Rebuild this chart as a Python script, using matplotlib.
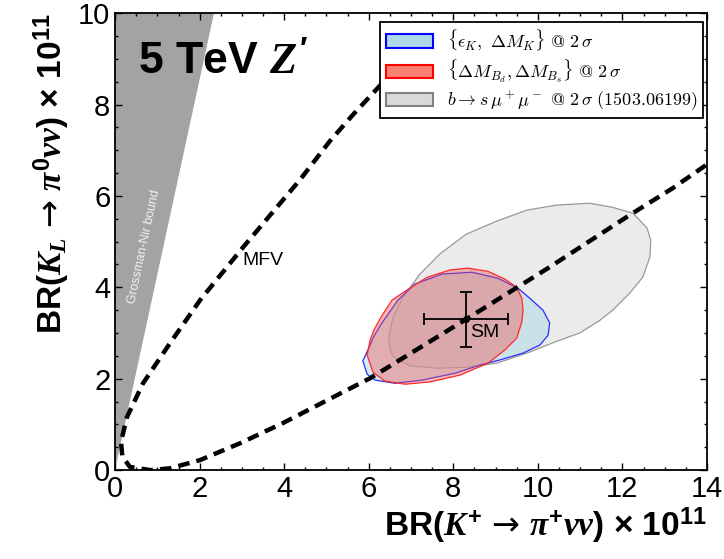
import numpy as np
import matplotlib
matplotlib.use("Agg")
import matplotlib.pyplot as plt
from matplotlib.font_manager import FontProperties

plt.rcParams['font.family'] = ['Liberation Sans', 'DejaVu Sans']
plt.rcParams['mathtext.fontset'] = 'custom'
plt.rcParams['mathtext.rm'] = 'Liberation Sans:bold'
plt.rcParams['mathtext.bf'] = 'Liberation Sans:bold'
plt.rcParams['mathtext.it'] = 'Liberation Serif:italic:bold'
plt.rcParams['mathtext.sf'] = 'DejaVu Sans'

# Grossman-Nir excluded wedge (BR_L > 4.3 BR_+)
gn_x = [0.0, 0.0, 2.33]
gn_y = [0.0, 10.0, 10.0]

# MFV curve, traced from the upper branch round to the lower one
mfv_x = [6.60, 6.20, 5.60, 5.08, 4.37, 3.03, 2.01, 1.30, 0.66, 0.28, 0.14, 0.17, 0.35, 0.83,
         1.30, 2.01, 2.96, 3.97, 5.48, 6.03, 8.30, 10.24, 12.17, 13.19, 14.0]
mfv_y = [8.75, 8.35, 7.75, 7.20, 6.35, 4.88, 3.72, 2.78, 1.90, 1.16, 0.62, 0.30, 0.07, 0.0,
         0.04, 0.22, 0.59, 1.03, 1.75, 2.01, 3.30, 4.42, 5.58, 6.17, 6.69]

# b -> s mu mu allowed region
bsmm_x = [6.48, 6.57, 6.81, 7.21, 7.68, 8.30, 9.03, 9.74, 10.45, 11.23, 11.77, 12.25, 12.58,
          12.67, 12.65, 12.48, 12.17, 11.77, 11.47, 10.99, 10.45, 9.74, 9.03, 8.32, 7.61,
          6.97, 6.57, 6.48]
bsmm_y = [2.95, 3.33, 3.79, 4.29, 4.73, 5.16, 5.45, 5.69, 5.80, 5.84, 5.75, 5.62, 5.30,
          5.03, 4.66, 4.22, 3.87, 3.50, 3.28, 3.00, 2.82, 2.56, 2.34, 2.25, 2.23,
          2.28, 2.49, 2.74]

# eps_K, Delta M_K allowed region
kk_x = [5.86, 5.98, 6.12, 6.31, 6.69, 7.09, 7.73, 8.44, 9.05, 9.53, 9.81, 10.12, 10.28,
        10.24, 10.05, 9.65, 9.10, 8.63, 8.04, 7.26, 6.62, 6.15, 5.96]
kk_y = [2.39, 2.63, 2.93, 3.22, 3.72, 4.07, 4.29, 4.33, 4.20, 3.98, 3.76, 3.50, 3.22,
        2.95, 2.74, 2.56, 2.41, 2.30, 2.12, 1.97, 1.90, 1.97, 2.10]

# Delta M_Bd, Delta M_Bs allowed region
bb_x = [5.96, 6.03, 6.12, 6.29, 6.55, 6.90, 7.38, 7.92, 8.35, 8.82, 9.22, 9.50, 9.62,
        9.65, 9.62, 9.50, 9.22, 8.82, 8.16, 7.45, 6.86, 6.38, 6.10]
bb_y = [2.52, 2.84, 3.06, 3.35, 3.72, 3.94, 4.22, 4.38, 4.42, 4.35, 4.18, 4.00, 3.76,
        3.50, 3.24, 2.89, 2.63, 2.34, 2.08, 1.93, 1.88, 1.95, 2.14]

# SM prediction
sm_x, sm_dx = 8.3, 1.0
sm_y, sm_dy = 3.3, 0.6

fig = plt.figure(figsize=(7.24, 5.59), dpi=100)
ax = fig.add_axes([0.159, 0.159, 0.8175, 0.8175])

ax.fill(gn_x, gn_y, color='#a3a3a3', lw=0, zorder=1)
ax.text(0.68, 4.9, 'Grossman-Nir bound', rotation=77.9, color='#f0f0f0',
        fontsize=9, ha='center', va='center', zorder=2)

ax.fill(bsmm_x, bsmm_y, facecolor='#ebebeb', edgecolor='#999999', lw=0.9, zorder=2)
ax.fill(kk_x, kk_y, facecolor=(0.68, 0.85, 0.90, 0.5), edgecolor='#2b2bff', lw=0.9, zorder=3)
ax.fill(bb_x, bb_y, facecolor=(0.95, 0.33, 0.30, 0.4), edgecolor='#ff2a2a', lw=0.9, zorder=4)

ax.plot(mfv_x, mfv_y, color='black', lw=3.2, dashes=(2.6, 1.6), zorder=5)
ax.text(3.0, 4.49, 'MFV', fontsize=14, va='baseline', zorder=6)

ax.errorbar([sm_x], [sm_y], xerr=[sm_dx], yerr=[sm_dy], fmt='o', color='black', ms=4,
            elinewidth=1.3, capsize=4, capthick=1.3, zorder=7)
ax.text(sm_x + 0.1, sm_y - 0.1, 'SM', fontsize=14, ha='left', va='top', zorder=7)

ax.text(0.54, 8.67, r"5 TeV $Z'$", fontsize=32, fontweight='bold', va='baseline', zorder=6)

handles = [
    plt.Rectangle((0, 0), 1, 1, facecolor='#add8e6', edgecolor='#0000ff', lw=1.5),
    plt.Rectangle((0, 0), 1, 1, facecolor='#fa8072', edgecolor='#ff0000', lw=1.5),
    plt.Rectangle((0, 0), 1, 1, facecolor='#d9d9d9', edgecolor='#808080', lw=1.5),
]
labels = [
    r'$\{\epsilon_K,\ \Delta M_K\}\ \mathrm{@}\ 2\,\sigma$',
    r'$\{\Delta M_{B_d}, \Delta M_{B_s}\}\ \mathrm{@}\ 2\,\sigma$',
    r'$b \to s\,\mu^+\mu^-\ \mathrm{@}\ 2\,\sigma\ \mathrm{(1503.06199)}$',
]
leg = ax.legend(handles, labels, loc='upper right', bbox_to_anchor=(0.993, 0.980),
                borderaxespad=0, prop=FontProperties(size=13, math_fontfamily='cm'),
                handlelength=2.6, handleheight=0.75, handletextpad=0.8, labelspacing=0.25,
                borderpad=0.3, fancybox=False, framealpha=1, edgecolor='black')
leg.get_frame().set_linewidth(1.3)
leg.set_zorder(10)

ax.set_xlim(0, 14)
ax.set_ylim(0, 10)
ax.set_xticks(np.arange(0, 15, 2))
ax.set_yticks(np.arange(0, 11, 2))
ax.set_xticks(np.arange(0, 14.01, 0.5), minor=True)
ax.set_yticks(np.arange(0, 10.01, 0.5), minor=True)
ax.tick_params(which='both', direction='in', top=True, right=True, labelsize=21, width=1)
ax.tick_params(which='major', length=5)
ax.tick_params(which='minor', length=2.5)
for sp in ax.spines.values():
    sp.set_linewidth(1.3)

ax.set_xlabel(r'BR($K^{+}\,\mathsf{\rightarrow}\,\pi^{+}vv$) × 10$^{11}$', fontsize=24,
              fontweight='bold', loc='right', labelpad=2)
ax.set_ylabel(r'BR($K_{L}\,\mathsf{\rightarrow}\,\pi^{0}vv$) × 10$^{11}$', fontsize=24,
              fontweight='bold', loc='top', labelpad=4)

fig.savefig('out.png', dpi=100)
